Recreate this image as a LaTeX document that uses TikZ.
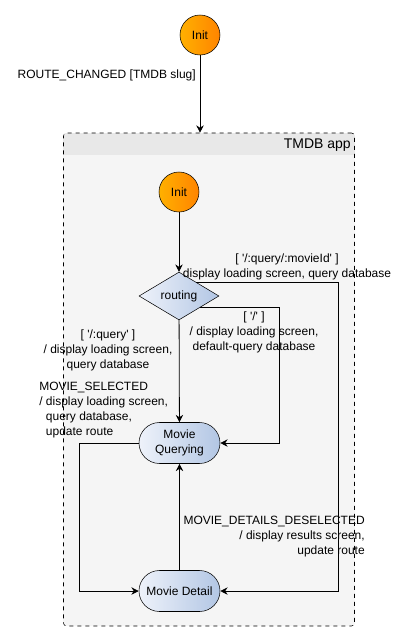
\documentclass[tikz,border=0pt]{standalone}
\usepackage{fontspec}
\setmainfont{Liberation Sans}
\usepackage{tikz}
\usetikzlibrary{shapes.geometric, shapes.misc, arrows.meta, positioning, calc}

\definecolor{initlight}{HTML}{FFB000}
\definecolor{initdark}{HTML}{FF8400}
\definecolor{stlight}{HTML}{EEF2FA}
\definecolor{stdark}{HTML}{B2C6E4}
\definecolor{appbody}{HTML}{F5F5F5}
\definecolor{apphead}{HTML}{E8E8E8}

\newcommand{\sq}{\textquotesingle}

\begin{document}
\begin{tikzpicture}[
    x=0.75pt, y=-0.75pt,
    font=\fontsize{9}{11.25}\selectfont,
    initst/.style={circle, draw, inner sep=0pt, minimum size=30pt, left color=initlight, right color=initdark},
    state/.style={rounded rectangle, draw, inner sep=0pt, minimum width=60.75pt, minimum height=30.75pt, align=center, left color=stlight, right color=stdark},
    choice/.style={diamond, draw, inner sep=0pt, minimum width=60pt, minimum height=28.5pt, left color=stlight, right color=stdark},
    container/.style={rectangle, draw, dashed, rounded corners=2.25pt, minimum width=218.25pt, minimum height=369.75pt},
    lbl/.style={inner sep=0pt, align=center},
    arr/.style={-{Stealth[length=5.5pt, width=5.5pt, inset=1.8pt]}, semithick}
]
\useasboundingbox (0,0) rectangle (409,642);

% outer machine
\node[initst] (init) at (200,35) {Init};
\node[lbl, anchor=east] (routelbl) at (196,75) {ROUTE\_CHANGED [TMDB slug]};

\fill[appbody, rounded corners=2.25pt] (63,133) rectangle (355,626);
\begin{scope}
  \clip[rounded corners=2.25pt] (63,133) rectangle (355,626);
  \fill[apphead] (63,133) rectangle (355,155);
\end{scope}
\node[container] (app) at (209,379.5) {};
\node[lbl, anchor=east, font=\fontsize{10.5}{12}\selectfont] (apptitle) at (351,145) {TMDB app};
\draw[arr] (init.south) -- (init.south |- app.north);

% inner states
\node[initst] (init2) at (179,192) {Init};
\node[choice] (routing) at (179,296) {routing};
\node[state] (query) at (179.5,443) {Movie\\Querying};
\node[state] (detail) at (179.5,591) {Movie Detail};

\coordinate (r1) at ($(routing.north)!0.42!(routing.east)$);
\coordinate (r2) at ($(routing.east)!0.47!(routing.south)$);
\coordinate (rx) at (338,591);
\coordinate (mx) at (279,443);
\coordinate (lx) at (79,591);

\draw[arr] (init2) -- (routing);
\draw[arr] (routing) -- (query);
\draw[arr] (r1) -- (r1 -| rx) -- (rx) -- (detail.east);
\draw[arr] (r2) -- (r2 -| mx) -- (mx) -- (query.east);
\draw[arr] (query.west) -| (lx) -- (detail.west);
\draw[arr] (detail) -- (query);

% transition labels
\node[lbl] (l1) at (287,266.5) {[ \sq/:query/:movieId\sq{} ]\\display loading screen, query database};
\node[lbl] (l2) at (254,332) {[ \sq/\sq{} ]\\/ display loading screen,\\default-query database};
\node[lbl] (l3) at (108,350) {[ \sq/:query\sq{} ]\\/ display loading screen,\\query database};
\node[lbl, anchor=west, align=left] (l4) at (39,410.5) {MOVIE\_SELECTED\\/ display loading screen,\\\hspace*{5pt}query database,\\\hspace*{5pt}update route};
\node[lbl, anchor=east, align=right] (l5) at (365,537) {MOVIE\_DETAILS\_DESELECTED\\/ display results screen,\\update route};
\end{tikzpicture}
\end{document}
